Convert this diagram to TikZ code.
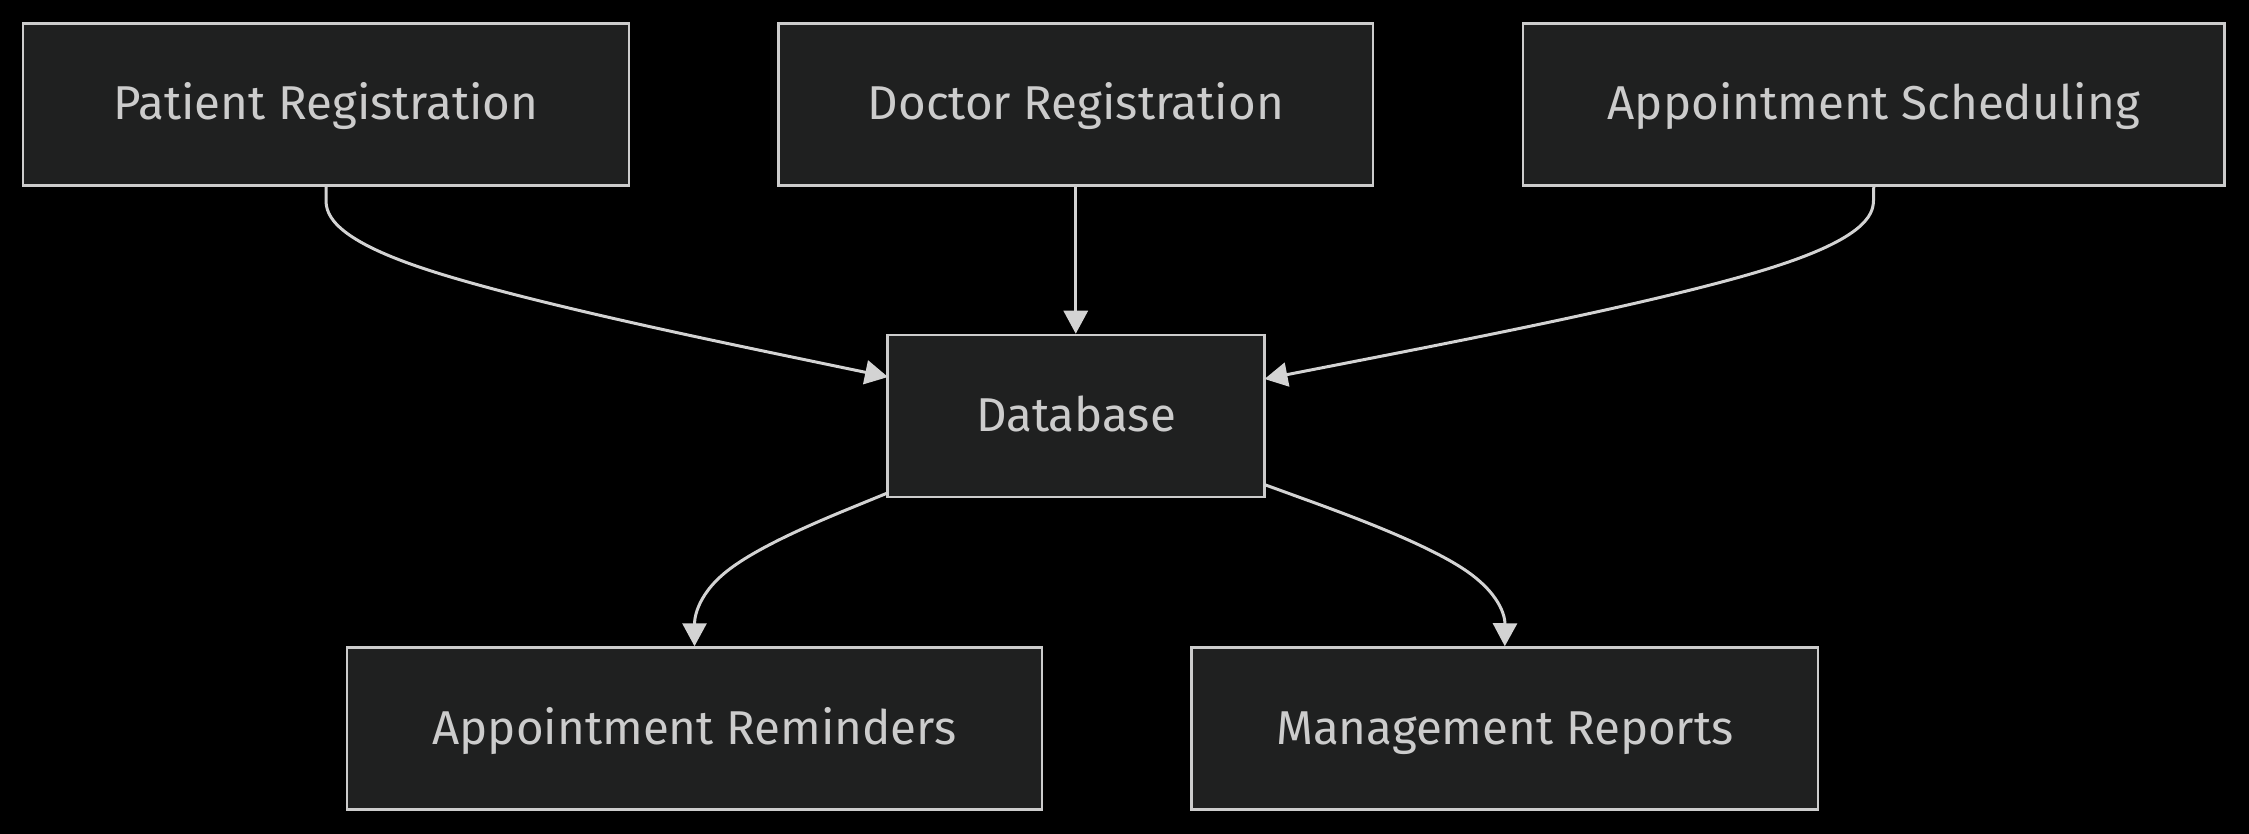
\documentclass[tikz,border=0pt]{standalone}
\usepackage{fontspec}
\setmainfont{Fira Sans}
\usetikzlibrary{arrows.meta}
\definecolor{boxfill}{HTML}{1F2020}
\definecolor{boxline}{HTML}{CCCCCC}
\definecolor{txt}{HTML}{CCCCCC}
\definecolor{edge}{HTML}{D3D3D3}
\tikzset{
  boxnode/.style={draw=boxline, fill=boxfill, line width=2.5pt, text=txt,
    minimum height=162pt, inner sep=0pt, text height=33pt, text depth=2pt,
    font=\fontsize{47.5}{56}\selectfont},
  edgeline/.style={draw=edge, line width=3pt,
    -{Triangle[length=23pt,width=24pt]}},
}
\begin{document}
\begin{tikzpicture}[x=1pt,y=-1pt]
\fill[black] (0,0) rectangle (2249,834);
\useasboundingbox (0,0) rectangle (2249,834);

\node[boxnode, minimum width=606pt] (pat) at (326,104.5) {Patient Registration};
\node[boxnode, minimum width=594.5pt] (doc) at (1075.75,104.5) {Doctor Registration};
\node[boxnode, minimum width=701.5pt] (sch) at (1873.75,104.5) {Appointment Scheduling};
\node[boxnode, minimum width=377pt] (db) at (1076,416) {Database};
\node[boxnode, minimum width=695pt] (rem) at (694.5,728.5) {Appointment Reminders};
\node[boxnode, minimum width=626.5pt] (rep) at (1504.8,728.5) {Management Reports};

\coordinate (dbP) at (888,377);
\coordinate (dbS) at (1264.5,379);
\coordinate (dbR) at (888,492.8);
\coordinate (dbM) at (1264.5,484.6);

\draw[edgeline] (pat.south) -- (326,198.3)
  .. controls (326,210.7) and (326,235.3) .. (419.7,267.2)
  .. controls (513.3,299) and (700.7,338) .. (794.3,357.5) -- (dbP);

\draw[edgeline] (doc.south) -- (doc.south |- db.north);

\draw[edgeline] (sch.south) -- (1873.5,198.3)
  .. controls (1873.5,210.7) and (1873.5,235.3) .. (1772,267.5)
  .. controls (1670.5,299.7) and (1467.5,339.3) .. (1366,359.2) -- (dbS);

\draw[edgeline] (dbR) -- (855.75,506)
  .. controls (823.5,519.2) and (759,545.6) .. (726.75,571.3)
  .. controls (694.5,597) and (694.5,622) .. (rem.north);

\draw[edgeline] (dbM) -- (1304.6,499.2)
  .. controls (1344.7,513.7) and (1424.8,542.9) .. (1464.9,569.9)
  .. controls (1505,597) and (1505,622) .. (rep.north);
\end{tikzpicture}
\end{document}
